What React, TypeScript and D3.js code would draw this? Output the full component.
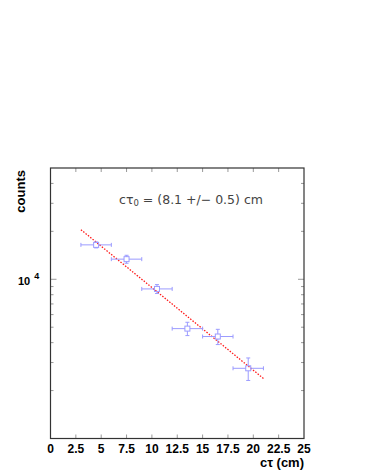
import { useRef, useEffect } from 'react';
import * as d3 from 'd3';

// measured points: c*tau (cm), counts, errors
const ctau = [4.5, 7.5, 10.5, 13.5, 16.5, 19.5];
const counts = [16450, 13380, 8700, 4900, 4370, 2760];
const countErr = [700, 770, 560, 470, 480, 445];
const ctauErr = [1.5, 1.5, 1.5, 1.5, 1.5, 1.5];

// fitted exponential, drawn between its two ends (straight on log axis)
const fitX = [3, 21];
const fitY = [20490, 2382];

const xTicks = [0, 2.5, 5, 7.5, 10, 12.5, 15, 17.5, 20, 22.5, 25];
const yMinor = [2000, 3000, 4000, 5000, 6000, 7000, 8000, 9000, 20000, 30000, 40000];

export default function App() {
  const svgRef = useRef<SVGSVGElement>(null);

  useEffect(() => {
    const w = 365, h = 473;
    const m = { t: 168, r: 61, b: 34.5, l: 50.5 };

    const x = d3.scaleLinear().domain([0, 25]).range([m.l, w - m.r]);
    const y = d3.scaleLog().domain([1000, 50000]).range([h - m.b, m.t]);

    const svg = d3.select(svgRef.current)
      .attr('width', w)
      .attr('height', h)
      .style('font-family', '"Liberation Sans", Arial, sans-serif');
    svg.selectAll('*').remove();

    const frame = '#333';
    const tickCol = '#999';

    // x ticks, bottom (pointing up) and top (pointing down)
    svg.append('g')
      .selectAll('line')
      .data(xTicks.slice(1, -1))
      .join('line')
        .attr('x1', d => x(d)).attr('x2', d => x(d))
        .attr('y1', h - m.b).attr('y2', h - m.b - 4)
        .attr('stroke', tickCol);
    svg.append('g')
      .selectAll('line')
      .data(xTicks.slice(1, -1))
      .join('line')
        .attr('x1', d => x(d)).attr('x2', d => x(d))
        .attr('y1', m.t).attr('y2', m.t + 4)
        .attr('stroke', tickCol);

    // y ticks, left and right
    const yT = [...yMinor.map(v => ({ v, len: 3 })), { v: 10000, len: 6 }];
    svg.append('g')
      .selectAll('line')
      .data(yT)
      .join('line')
        .attr('x1', m.l).attr('x2', d => m.l + d.len)
        .attr('y1', d => y(d.v)).attr('y2', d => y(d.v))
        .attr('stroke', tickCol);
    svg.append('g')
      .selectAll('line')
      .data(yT)
      .join('line')
        .attr('x1', w - m.r).attr('x2', d => w - m.r - d.len)
        .attr('y1', d => y(d.v)).attr('y2', d => y(d.v))
        .attr('stroke', tickCol);

    // frame
    svg.append('rect')
      .attr('x', m.l).attr('y', m.t)
      .attr('width', w - m.r - m.l).attr('height', h - m.b - m.t)
      .attr('fill', 'none').attr('stroke', frame).attr('stroke-width', 1.2);

    // x tick labels
    svg.append('g')
      .selectAll('text')
      .data(xTicks)
      .join('text')
        .attr('x', d => x(d)).attr('y', 452.7)
        .attr('text-anchor', 'middle')
        .attr('font-weight', 700).attr('font-size', 12)
        .text(d => String(d));

    // y label 10^4
    const yl = svg.append('text')
      .attr('x', 18).attr('y', y(10000) + 5.5)
      .attr('font-weight', 700).attr('font-size', 11);
    yl.append('tspan').text('10');
    yl.append('tspan').attr('dx', 4).attr('dy', -6).attr('font-size', 9).text('4');

    // axis titles
    svg.append('text')
      .attr('x', w - m.r).attr('y', 467)
      .attr('text-anchor', 'end')
      .attr('font-weight', 700).attr('font-size', 13)
      .text('cτ (cm)');
    svg.append('text')
      .attr('transform', `translate(25,${m.t + 2}) rotate(-90)`)
      .attr('text-anchor', 'end')
      .attr('font-weight', 700).attr('font-size', 13)
      .text('counts');

    // fit line
    svg.append('path')
      .datum(fitX.map((v, i) => [v, fitY[i]]))
      .attr('fill', 'none')
      .attr('stroke', '#ff1a1a')
      .attr('stroke-width', 1.3)
      .attr('stroke-dasharray', '1.5,1.5')
      .attr('d', d3.line<number[]>().x(d => x(d[0])).y(d => y(d[1])));

    // points with error bars
    const col = '#9b9bff';
    const pts = ctau.map((v, i) => ({ x: v, y: counts[i], ex: ctauErr[i], ey: countErr[i] }));
    const g = svg.append('g').attr('stroke', col).attr('fill', 'none');
    const cap = 2;
    pts.forEach(p => {
      const cx = x(p.x), cy = y(p.y);
      const x0 = x(p.x - p.ex), x1 = x(p.x + p.ex);
      const y0 = y(p.y - p.ey), y1 = y(p.y + p.ey);
      g.append('line').attr('x1', x0).attr('x2', cx - 2.5).attr('y1', cy).attr('y2', cy);
      g.append('line').attr('x1', cx + 2.5).attr('x2', x1).attr('y1', cy).attr('y2', cy);
      g.append('line').attr('x1', cx).attr('x2', cx).attr('y1', y1).attr('y2', cy - 2.5);
      g.append('line').attr('x1', cx).attr('x2', cx).attr('y1', cy + 2.5).attr('y2', y0);
      g.append('line').attr('x1', x0).attr('x2', x0).attr('y1', cy - cap).attr('y2', cy + cap);
      g.append('line').attr('x1', x1).attr('x2', x1).attr('y1', cy - cap).attr('y2', cy + cap);
      g.append('line').attr('x1', cx - cap).attr('x2', cx + cap).attr('y1', y1).attr('y2', y1);
      g.append('line').attr('x1', cx - cap).attr('x2', cx + cap).attr('y1', y0).attr('y2', y0);
      g.append('rect').attr('x', cx - 2.5).attr('y', cy - 2.5).attr('width', 5).attr('height', 5);
    });

    // fit result
    const t = svg.append('text')
      .attr('x', 191).attr('y', 204)
      .attr('text-anchor', 'middle')
      .attr('fill', '#444').attr('font-size', 12.5)
      .style('font-family', '"DejaVu Sans", sans-serif');
    t.append('tspan').text('cτ');
    t.append('tspan').attr('dy', 2).attr('font-size', 8.5).text('0');
    t.append('tspan').attr('dy', -2).text(' = (8.1 +/− 0.5) cm');
  }, []);

  return (
    <div style={{ position: 'absolute', left: 0, top: 0 }}>
      <svg ref={svgRef}></svg>
    </div>
  );
}
